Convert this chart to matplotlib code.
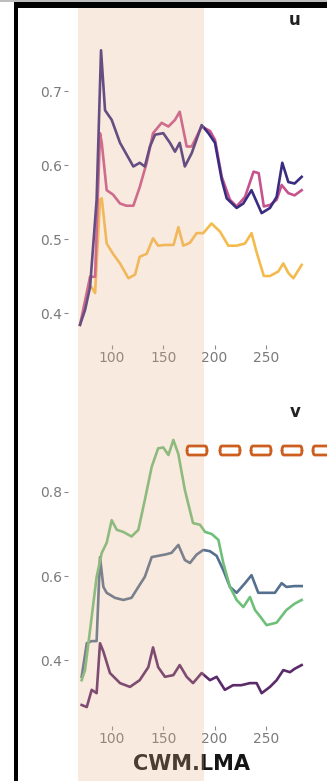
import matplotlib
matplotlib.use("Agg")
import matplotlib.pyplot as plt
from matplotlib.patches import Rectangle, FancyBboxPatch

# ---- data: community weighted mean LMA vs. coefficient ----
u_navy_x = [68.8, 73.7, 78.6, 85.0, 89.3, 93.2, 99.7, 107.8, 120.8, 127, 132, 137, 142, 150,
            156.5, 161.4, 166, 171, 177.7, 187.4, 194, 200.4, 207, 211.8, 221.5, 228, 236,
            245.9, 254, 260.5, 266, 271.9, 278, 284.9]
u_navy_y = [0.384, 0.404, 0.435, 0.553, 0.755, 0.674, 0.661, 0.630, 0.598, 0.603, 0.598, 0.625,
            0.641, 0.643, 0.630, 0.618, 0.630, 0.598, 0.616, 0.654, 0.643, 0.630, 0.580, 0.555,
            0.542, 0.548, 0.566, 0.535, 0.542, 0.557, 0.603, 0.577, 0.575, 0.584]

u_pink_x = [68.8, 78.6, 83.5, 88.3, 90, 94.8, 101, 107.8, 114, 120.8, 127, 133.8, 140, 148.4,
            155, 161.4, 166, 172.8, 177.7, 187.4, 195.5, 200.4, 207, 215, 221.5, 229.7, 238,
            243, 248, 254, 260.5, 265.4, 271.9, 278, 284.9]
u_pink_y = [0.384, 0.449, 0.449, 0.643, 0.630, 0.566, 0.560, 0.548, 0.545, 0.545, 0.570, 0.603,
            0.643, 0.657, 0.652, 0.661, 0.672, 0.625, 0.625, 0.652, 0.646, 0.634, 0.584, 0.553,
            0.544, 0.557, 0.591, 0.589, 0.544, 0.546, 0.553, 0.573, 0.562, 0.559, 0.566]

u_gold_x = [80, 83.5, 88.3, 90, 94.8, 101, 107.8, 116, 122.5, 127, 133.8, 140, 145, 151.6,
            160, 164.7, 169.5, 176, 182.5, 189, 197, 205.3, 213.4, 221.5, 229.7, 236, 241,
            248, 254, 262, 267, 272, 276.8, 284.9]
u_gold_y = [0.435, 0.427, 0.553, 0.555, 0.494, 0.480, 0.467, 0.447, 0.452, 0.476, 0.480, 0.501,
            0.491, 0.492, 0.492, 0.516, 0.491, 0.495, 0.508, 0.508, 0.521, 0.510, 0.491, 0.491,
            0.494, 0.508, 0.482, 0.450, 0.450, 0.456, 0.467, 0.454, 0.447, 0.465]

v_green_x = [70.4, 73.7, 78.6, 85, 90, 94.8, 99.7, 104.6, 111, 119, 125.7, 132, 138.7, 145,
             150, 155, 159.8, 164.7, 171, 179, 185.8, 190.7, 197.2, 203.7, 208.5, 215, 221.5,
             228, 234.5, 239.4, 244, 250.7, 260.5, 270, 278, 284.9]
v_green_y = [0.352, 0.376, 0.471, 0.598, 0.655, 0.679, 0.733, 0.710, 0.705, 0.694, 0.710, 0.781,
             0.860, 0.904, 0.906, 0.888, 0.924, 0.890, 0.805, 0.726, 0.722, 0.705, 0.700, 0.686,
             0.631, 0.574, 0.543, 0.526, 0.550, 0.519, 0.505, 0.483, 0.489, 0.519, 0.534, 0.543]

v_slate_x = [70.4, 75.4, 80.2, 85, 88.3, 91.6, 94.8, 102.9, 111, 119, 125.7, 132, 138.7, 145,
             151.6, 158, 164.7, 171, 176, 182.5, 189, 195.5, 202, 208.5, 215, 221.5, 229.7,
             236, 242.6, 250.7, 258.8, 265.4, 270, 278, 284.9]
v_slate_y = [0.360, 0.440, 0.445, 0.445, 0.645, 0.574, 0.560, 0.548, 0.543, 0.548, 0.574, 0.598,
             0.645, 0.648, 0.651, 0.655, 0.674, 0.638, 0.631, 0.651, 0.662, 0.659, 0.648, 0.614,
             0.574, 0.560, 0.583, 0.602, 0.560, 0.560, 0.560, 0.583, 0.574, 0.576, 0.576]

v_plum_x = [70.4, 75.4, 80.2, 85, 88.3, 91.6, 98, 107.8, 117.5, 127, 135.4, 140, 145, 151.6,
            159.8, 166, 172.8, 179, 187.4, 195.5, 202, 210, 218, 226, 234.5, 241, 245.9, 254,
            260.5, 267, 273.5, 278, 284.9]
v_plum_y = [0.293, 0.288, 0.329, 0.321, 0.440, 0.420, 0.369, 0.345, 0.336, 0.352, 0.383, 0.430,
            0.383, 0.360, 0.364, 0.388, 0.360, 0.345, 0.369, 0.352, 0.360, 0.329, 0.340, 0.340,
            0.345, 0.345, 0.321, 0.336, 0.352, 0.376, 0.371, 0.379, 0.388]

x_ticks = [100, 150, 200, 250]
u_ticks = [0.4, 0.5, 0.6, 0.7]
v_ticks = [0.4, 0.6, 0.8]
shade_range = (67, 190)

W, H = 327, 781
fig = plt.figure(figsize=(W / 100, H / 100), dpi=100)
fig.patch.set_facecolor("white")


def px_axes(left, top, right, bottom):
    return fig.add_axes([left / W, 1 - bottom / H, (right - left) / W, (bottom - top) / H])


def style(ax, yticks):
    ax.set_facecolor("none")
    for s in ax.spines.values():
        s.set_visible(False)
    ax.set_xticks(x_ticks)
    ax.set_yticks(yticks)
    ax.set_yticklabels([f"{t:.1f}" for t in yticks])
    ax.tick_params(colors="#8a8a8a", labelcolor="#7a7a7a", labelsize=10,
                   length=3, width=0.8, pad=1.5)


ax_u = px_axes(68, 15, 315, 345)
ax_u.set_xlim(57.1, 297.9)
ax_u.set_ylim(0.3568, 0.8027)
style(ax_u, u_ticks)

ax_v = px_axes(68, 400, 315, 726)
ax_v.set_xlim(57.1, 297.9)
ax_v.set_ylim(0.2429, 1.019)
style(ax_v, v_ticks)

lw = 1.9
ax_u.plot(u_gold_x, u_gold_y, color="#f4bb4c", lw=lw)
ax_u.plot(u_pink_x, u_pink_y, color="#c6538d", lw=lw)
ax_u.plot(u_navy_x, u_navy_y, color="#3a2c80", lw=lw)

ax_v.plot(v_plum_x, v_plum_y, color="#5b2a69", lw=lw)
ax_v.plot(v_slate_x, v_slate_y, color="#55708f", lw=lw)
ax_v.plot(v_green_x, v_green_y, color="#6fbf7a", lw=lw)

fig.text(295 / W, 1 - 20 / H, "u", ha="center", va="center",
         fontsize=12, fontweight="bold", color="#222222")
fig.text(295 / W, 1 - 412 / H, "v", ha="center", va="center",
         fontsize=12, fontweight="bold", color="#222222")
fig.text(191 / W, 1 - 770 / H, "CWM.LMA", ha="center", va="baseline",
         fontsize=15, fontweight="bold", color="#151515")

# shaded LMA window across both panels, laid over the drawing
fig.canvas.draw()
to_fig = (ax_u.transData + fig.transFigure.inverted())
x0 = to_fig.transform((shade_range[0], 0.5))[0]
x1 = to_fig.transform((shade_range[1], 0.5))[0]
fig.patches.append(Rectangle((x0, 0), x1 - x0, 1 - 8 / H, transform=fig.transFigure,
                             facecolor="#eab089", alpha=0.26, edgecolor="none", zorder=10))

# orange dashed marker next to the v peak
for bx in [187, 220, 251, 282, 313]:
    fig.patches.append(FancyBboxPatch((bx / W, 1 - 455 / H), 20 / W, 9 / H,
                                      boxstyle="round,pad=0,rounding_size=0.006",
                                      transform=fig.transFigure, facecolor="white",
                                      edgecolor="#cc5f1f", lw=2.0, zorder=11))

# frame lines
fig.patches.append(Rectangle((0, 1 - 2 / H), 1, 2 / H, transform=fig.transFigure,
                             facecolor="#bdbdbd", edgecolor="none", zorder=12))
fig.patches.append(Rectangle((14 / W, 1 - 8 / H), 1, 6 / H, transform=fig.transFigure,
                             facecolor="black", edgecolor="none", zorder=12))
fig.patches.append(Rectangle((14 / W, 0), 4 / W, 1 - 2 / H, transform=fig.transFigure,
                             facecolor="black", edgecolor="none", zorder=12))

fig.savefig("out.png", dpi=100, facecolor="white")
